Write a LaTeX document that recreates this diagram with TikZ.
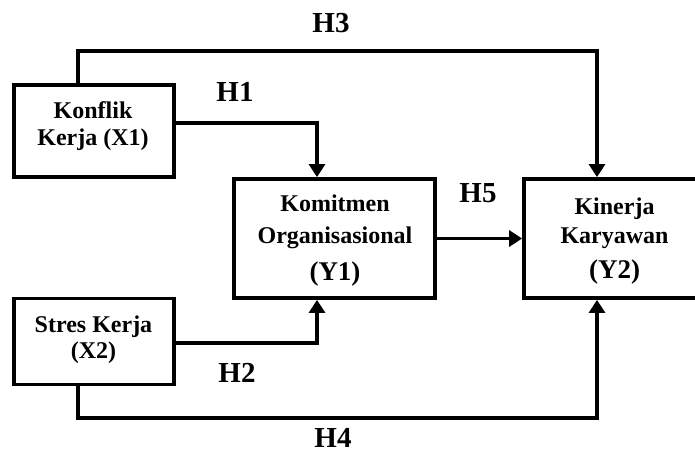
\documentclass[tikz,border=0pt]{standalone}
\usepackage{fontspec}
\setmainfont{Liberation Serif}
\usetikzlibrary{arrows.meta, positioning, calc}

\begin{document}
\begin{tikzpicture}[
    x=1pt, y=-1pt,
    base/.style = {rectangle, draw=black, line width=3.8pt, fill=white},
    varbox/.style = {base, minimum width=160pt},
    bigbox/.style = {base, minimum height=119pt},
    boxtext/.style = {align=center, inner sep=0pt,
        font=\fontsize{24}{27}\selectfont\bfseries},
    hlabel/.style = {inner sep=0pt, font=\fontsize{29}{34}\selectfont\bfseries},
    arr/.style = {-{Triangle[length=13pt,width=16pt]}, line width=3.8pt, black}
]
\clip (0,0) rectangle (695,455);
% variable boxes
\node[varbox, minimum height=92pt] (x1) at (94,131) {};
\node[boxtext] (x1text) at (93,126) {Konflik\\Kerja (X1)};
\node[varbox, minimum height=86pt] (x2) at (94,341.5) {};
\node[boxtext, font=\fontsize{24}{26}\selectfont\bfseries] (x2text) at (93.5,340)
    {Stres Kerja\\(X2)};
\node[bigbox, minimum width=201pt] (y1) at (334.5,238.5) {};
\node[boxtext, font=\fontsize{24}{32}\selectfont\bfseries] (y1text) at (335,240.5)
    {Komitmen\\Organisasional\\[5pt]{\fontsize{27}{32}\selectfont (Y1)}};
\node[bigbox, minimum width=180pt] (y2) at (614,238.5) {};
\node[boxtext, font=\fontsize{24}{29}\selectfont\bfseries] (y2text) at (614.5,241)
    {Kinerja\\Karyawan\\[6pt]{\fontsize{27}{32}\selectfont (Y2)}};
% hypothesis labels
\node[hlabel] (h1) at (235,92) {H1};
\node[hlabel] (h2) at (237,373) {H2};
\node[hlabel] (h3) at (331,23) {H3};
\node[hlabel] (h4) at (333,438) {H4};
\node[hlabel] (h5) at (478,193) {H5};
% paths
\coordinate (h3corner) at (78,51);
\coordinate (h4corner) at (78,418);
\draw[arr] ([yshift=8pt]x1.east) -| ([xshift=-17.5pt]y1.north);
\draw[arr] ([yshift=-1.5pt]x2.east) -| ([xshift=-17.5pt]y1.south);
\draw[arr] (x1.north -| h3corner) -- (h3corner) -| ([xshift=-17pt]y2.north);
\draw[arr] (x2.south -| h4corner) -- (h4corner) -| ([xshift=-17pt]y2.south);
\draw[arr] (y1.east) -- (y2.west);
\end{tikzpicture}
\end{document}
